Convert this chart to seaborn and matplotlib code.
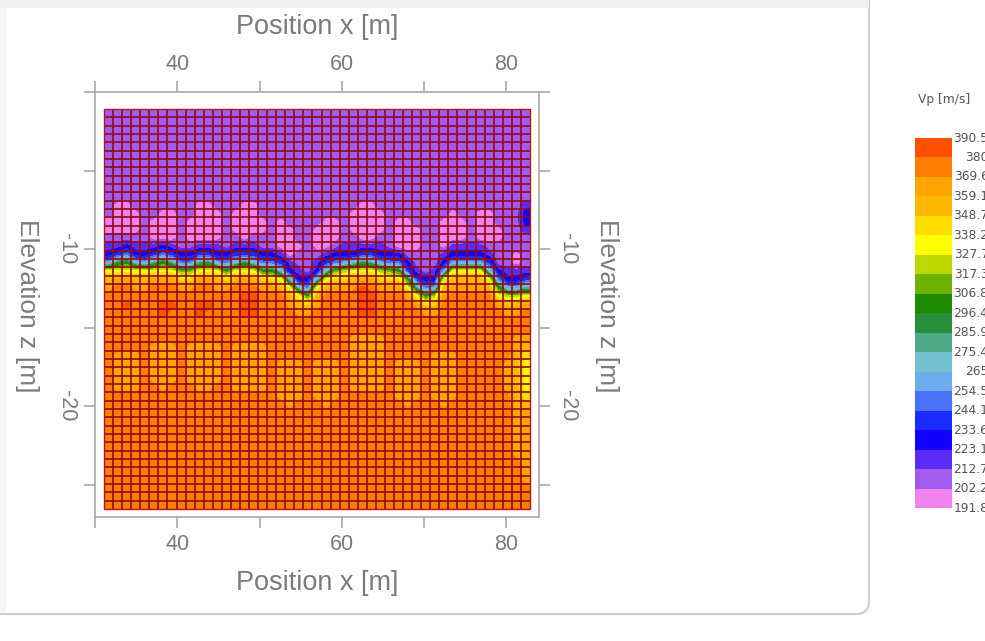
import numpy as np
import pandas as pd
import matplotlib
matplotlib.use('Agg')
import matplotlib.pyplot as plt
import seaborn as sns
from matplotlib.colors import ListedColormap, BoundaryNorm
from matplotlib.patches import FancyBboxPatch, Rectangle
from matplotlib.transforms import blended_transform_factory

# colour classes, lowest first
levels = [191.8, 202.2, 212.7, 223.1, 233.6, 244.1, 254.5, 265.0, 275.4, 285.9,
          296.4, 306.8, 317.3, 327.7, 338.2, 348.7, 359.1, 369.6, 380.0, 390.5]
level_labels = ["191.8", "202.2", "212.7", "223.1", "233.6", "244.1", "254.5", "265", "275.4", "285.9",
                "296.4", "306.8", "317.3", "327.7", "338.2", "348.7", "359.1", "369.6", "380", "390.5"]
colors = ["#f082ed", "#a35bef", "#5b2cf5", "#1400ff", "#1a2bff", "#4a70f5", "#6daaee", "#73c1cc", "#50a988", "#2a8f3c",
          "#1f8c00", "#6db300", "#bcd900", "#ffff00", "#ffdc00", "#ffb900", "#ffa500", "#ff7d00", "#ff4f00"]
classes = "abcdefghijklmnopqrs"

# one string per row of cells, top to bottom, one letter per column (class)
R = "rrrrrrrrrr rrrrrrrrrr rrrrrrrrrr rrrrrrrrrr rrrrrrr"
B = "bbbbbbbbbb bbbbbbbbbb bbbbbbbbbb bbbbbbbbbb bbbbbbb"
cell_rows = [
    B, B, B, B, B, B, B, B, B, B, B,
    "baabbbbbbb aabbbaabbb bbbbbbbbaa bbbbbbbbbb bbbbbbc",
    "baaabbaabb aaabaaabbb bbbbbbbaaa abbbbbbbab baabbbd",
    "aaaabaaaba aaabaaaaba bbbbaabaaa abaabbbaaa baabbbd",
    "aaaabaaaba aaabaaaaba abbaaabaaa abaaabbaaa baaabbc",
    "bbbbbaaaba aaabbabbba abbaaabbaa bbaaabbaaa baaabbb",
    "ccdcccdcbb cccbcccbba aabaabcccc cbaaabbacc ccbbbbb",
    "defddefedd eeddeeeddc abbbcdddee dddbbbbcdd ddcbbab",
    "gjkhgikiff ijgfhjhffe cbbcefghji gffdbbbdgg ggebbab",
    "nnnnnnnnll nnnknnnkkh dcbdhlmnnn mlkecbcgnn nnhdccc",
    "pqqppqqqoo qqpopqpoon hddhnoopqq oookeddnpp ppnfdde",
    "qrrqqrrrqq rrqqrrrqqp nhfnpqqqsr qqqnifgpqq qqpkggi",
    "rrrrrrrrrr rrrrrssrrr pnkprrrrss rrrqnkmqrr rrrnmmn",
    "rrsrrrssrr ssrrrssrrr qpoqrrrrss rrrrqoorrr rrrqppq",
    "rrrrrrsrrr srrrrssrrr rqqrrrrrss rrrrrqqrrr rrrrqqr",
    R, R,
    "rrrrrrrrrr rrrrrrrrrr rrrrrrrqqq qrrrrrrrrr rrrrrqq",
    "rrrrrqqqrq qqqrqqqqrr rrrrrrrqqq qrrrrrrrrr rrrrrqp",
    "rqqqrqqqrq qqqrqqqqrr rrrrrrrqqq qrrrrrqqqr rrrrrpo",
    "rqqqrqqqrq qqqrqqqqrq qqrqqqrqqq qrqqqrqqqr rrrrqpn",
    "rqqqrqqqrq qqqrqqqqrq qqrqqqrqqq qrqqqrqqqr rrrrqpn",
    "rqqqrqqqrq qqqrqqqqrq qqrqqqrqqq qrqqqrqqqr rrrrqpn",
    "rqqqrrqrrr qqrrqqqqrq qqrqqqrqqq qrqqqrqqqr rrrrqpn",
    "rrrrrrrrrr rrrrrrrrrq qqrqqqrrrr rrqqqrqqqr rrrrrpo",
    "rrrrrrrrrr rrrrrrrrrr qrrrqrrrrr rrrqrrrqrr rrrrrpp",
    "rrrrrrrrrr rrrrrrrrrr rrrrrrrrrr rrrrrrrrrr rrrrrqq",
    "rrrrrrrrrr rrrrrrrrrr rrrrrrrrrr rrrrrrrrrr rrrrrqq",
    "rrrrrrrrrr rrrrrrrrrr rrrrrrrrrr rrrrrrrrrr rrrrrqq",
    "rrrrrrrrrr rrrrrrrrrr rrrrrrrrrr rrrrrrrrrr rrrrrqq",
    "rrrrrrrrrr rrrrrrrrrr rrrrrrrrrr rrrrrrrrrr rrrrrqq",
    "rrrrrrrrrr rrrrrrrrrr rrrrrrrrrr rrrrrrrrrr rrrrrqq",
    "rrrrrrrrrr rrrrrrrrrr rrrrrrrrrr rrrrrrrrrr rrrrrrq",
    "rrrrrrrrrr rrrrrrrrrr rrrrrrrrrr rrrrrrrrrr rrrrrrq",
    "rrrrrrrrrr rrrrrrrrrr rrrrrrrrrr rrrrrrrrrr rrrrrrq",
    R, R, R,
]
x_ticks = [30, 40, 50, 60, 70, 80]
x_labels = ["", "40", "", "60", "", "80"]
z_ticks = [0, -5, -10, -15, -20, -25]
z_labels = ["", "", "-10", "", "-20", ""]

W, H = 985, 641
GRAY_LINE = "#a8a8a8"
GRAY_TEXT = "#7b7b7b"
GRID = "#900a14"


def box(left, top, right, bottom):
    return [left / W, 1 - bottom / H, (right - left) / W, (bottom - top) / H]


sns.set_style("white")
plt.rcParams['font.family'] = ['Liberation Sans', 'DejaVu Sans']

mids = [(a + b) / 2 for a, b in zip(levels[:-1], levels[1:])]
vp = pd.DataFrame([[mids[classes.index(c)] for c in row.replace(" ", "")] for row in cell_rows])
cmap = ListedColormap(colors)
norm = BoundaryNorm(levels, cmap.N)

fig = plt.figure(figsize=(W / 100, H / 100), dpi=100, facecolor="white")

# card behind the chart
bg = fig.add_axes([0, 0, 1, 1], zorder=0)
bg.set_xlim(0, W)
bg.set_ylim(H, 0)
bg.axis("off")
bg.add_patch(FancyBboxPatch((-40, -40), 909, 654, boxstyle="round,pad=0,rounding_size=13",
                            fc="white", ec="#cfcfcf", lw=1.6))
bg.add_patch(Rectangle((0, 0), 869, 8, fc="#f1f1f1", ec="none"))
bg.add_patch(Rectangle((0, 8), 6, 605, fc="#f6f6f6", ec="none"))

# frame with ticks
ax = fig.add_axes(box(95.2, 92, 539, 517), zorder=1)
ax.patch.set_alpha(0)
ax.set_xlim(30, 84)
ax.set_ylim(-27.07, 0)
for s in ax.spines.values():
    s.set_visible(True)
    s.set_color(GRAY_LINE)
    s.set_linewidth(1.2)
ax.set_xticks(x_ticks, x_labels)
ax.set_yticks(z_ticks, z_labels)
ax.tick_params(axis="both", which="major", direction="out", length=8, width=1.2, color=GRAY_LINE,
               labelcolor=GRAY_TEXT, labelsize=15.5,
               bottom=True, top=True, left=True, right=True,
               labelbottom=True, labeltop=True, labelleft=True, labelright=True)
ax.tick_params(axis="x", pad=4.5)
ax.tick_params(axis="y", pad=5)
for lab in ax.get_yticklabels():
    lab.set_rotation(-90)
    lab.set_va("center")

# model cells
hm = fig.add_axes(box(104, 109, 530, 509), zorder=2)
sns.heatmap(vp, ax=hm, cmap=cmap, norm=norm, cbar=False, xticklabels=False, yticklabels=False)
n_rows, n_cols = vp.shape
cols_c = np.concatenate([[0], np.arange(n_cols) + 0.5, [n_cols]])
rows_c = np.concatenate([[0], np.arange(n_rows) + 0.5, [n_rows]])
hm.contourf(cols_c, rows_c, np.pad(vp.to_numpy(), 1, mode="edge"), levels=levels, colors=colors, zorder=2)
hm.vlines(np.arange(1, n_cols), 0, n_rows, color=GRID, lw=1.2, zorder=3)
hm.hlines(np.arange(1, n_rows), 0, n_cols, color=GRID, lw=1.2, zorder=3)
hm.add_patch(Rectangle((0, 0), n_cols, n_rows, fc="none", ec="#b5141e", lw=1.0, zorder=4, clip_on=False))
hm.axis("off")

# axis titles
label_kw = dict(color=GRAY_TEXT, fontsize=19.5, ha="center", va="center")
fig.text(317.5 / W, 1 - 27 / H, "Position x [m]", **label_kw)
fig.text(317.5 / W, 1 - 583 / H, "Position x [m]", **label_kw)
label_kw["fontsize"] = 19
fig.text(27 / W, 1 - 306 / H, "Elevation z [m]", rotation=-90, **label_kw)
fig.text(607 / W, 1 - 306 / H, "Elevation z [m]", rotation=-90, **label_kw)

# legend
lg = fig.add_axes(box(915, 138, 952, 508), zorder=1)
legend_df = pd.DataFrame({"Vp": mids[::-1]})
sns.heatmap(legend_df, ax=lg, cmap=cmap, norm=norm, cbar=False, xticklabels=False, yticklabels=False)
lg.axis("off")
tr = blended_transform_factory(fig.transFigure, lg.transData)
for i, t in enumerate(level_labels[::-1]):
    lg.text(988.5 / W, i, t, transform=tr, ha="right", va="center", family="DejaVu Sans",
            fontsize=8.85, color="#555555", clip_on=False)
fig.text(918 / W, 1 - 100 / H, "Vp [m/s]", ha="left", va="center", family="DejaVu Sans",
         fontsize=8.85, color="#555555")

fig.savefig("out.png", dpi=100)
